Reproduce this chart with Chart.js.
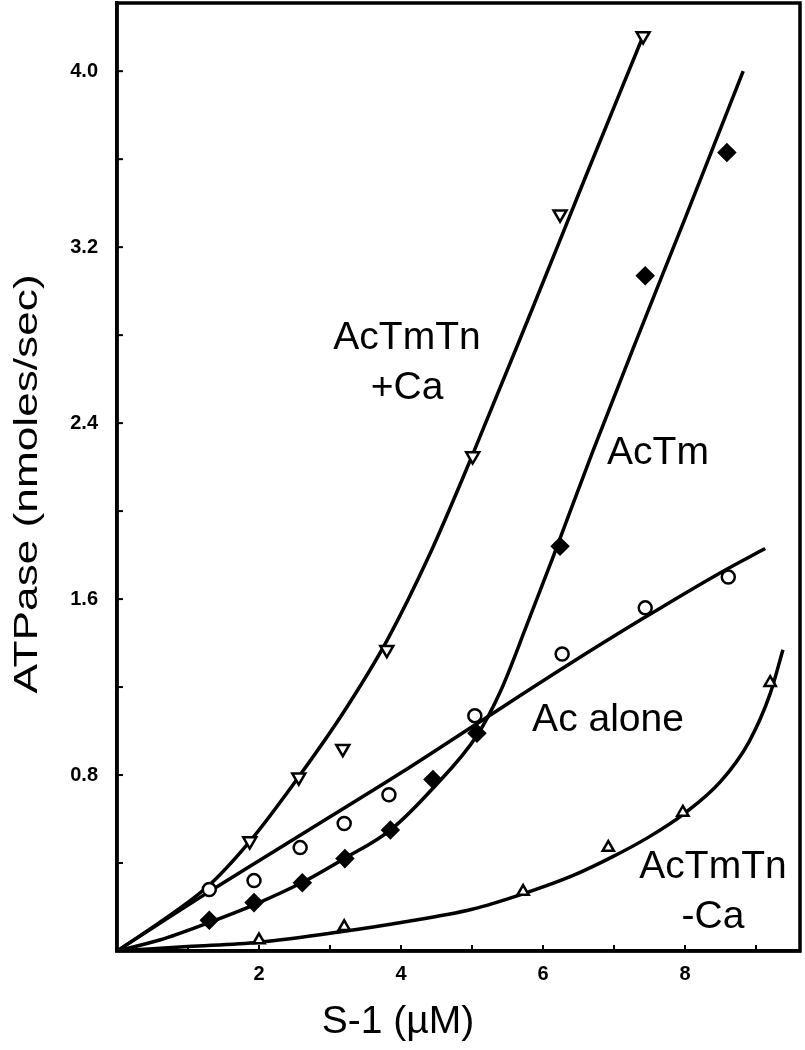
<!DOCTYPE html>
<html>
<head>
<meta charset="utf-8">
<script src="https://cdn.jsdelivr.net/npm/chart.js@4.4.1/dist/chart.umd.min.js"></script>
<style>
  html, body { margin: 0; padding: 0; background: #fff; }
  #wrap { width: 805px; height: 1050px; }
</style>
</head>
<body>
<div id="wrap"><canvas id="chart"></canvas></div>
<script>
// measured points (S-1 in uM, ATPase in nmoles/sec)
const acAloneX = [1.30, 1.93, 2.58, 3.20, 3.83, 5.04, 6.27, 7.44, 8.61];
const acAloneY = [0.28, 0.32, 0.47, 0.58, 0.71, 1.07, 1.35, 1.56, 1.70];

const plusCaX = [1.87, 2.56, 3.18, 3.80, 5.01, 6.24, 7.41];
const plusCaY = [0.50, 0.79, 0.92, 1.37, 2.25, 3.35, 4.16];

const acTmX = [1.30, 1.93, 2.61, 3.21, 3.85, 4.45, 5.07, 6.24, 7.44, 8.59];
const acTmY = [0.14, 0.22, 0.31, 0.42, 0.55, 0.78, 0.99, 1.84, 3.07, 3.63];

const minusCaX = [2.00, 3.20, 5.72, 6.92, 7.97, 9.20];
const minusCaY = [0.05, 0.11, 0.27, 0.47, 0.63, 1.22];

// fitted curves
const acAloneFitX = [0, 1.3, 2.7, 4.0, 5.1, 6.3, 7.4, 8.5, 9.13];
const acAloneFitY = [0, 0.27, 0.55, 0.81, 1.04, 1.29, 1.51, 1.72, 1.83];

const plusCaFitX = [0, 0.6, 1.3, 1.9, 2.6, 3.2, 3.8, 4.4, 5.0, 5.85, 6.6, 7.41];
const plusCaFitY = [0, 0.13, 0.30, 0.51, 0.81, 1.09, 1.41, 1.80, 2.25, 2.92, 3.52, 4.16];

const acTmFitX = [0, 0.6, 1.3, 1.93, 2.6, 3.2, 3.85, 4.45, 5.07, 5.4, 5.77, 6.14, 6.7, 7.27, 8.0, 8.82];
const acTmFitY = [0, 0.05, 0.13, 0.21, 0.31, 0.42, 0.55, 0.74, 0.98, 1.18, 1.48, 1.79, 2.27, 2.74, 3.33, 4.00];

const minusCaFitX = [0, 1.0, 2.0, 3.2, 4.0, 5.0, 5.72, 6.4, 6.99, 7.5, 7.97, 8.5, 8.9, 9.2, 9.38];
const minusCaFitY = [0, 0.02, 0.04, 0.09, 0.13, 0.19, 0.26, 0.34, 0.43, 0.52, 0.62, 0.77, 0.95, 1.17, 1.37];

const xLabels = [2, 4, 6, 8];
const yLabels = [0.8, 1.6, 2.4, 3.2, 4.0];

const curveLabels = [
    { lines: ['AcTmTn', '+Ca'], x: 407, y: 338 },
    { lines: ['AcTm'], x: 658, y: 453 },
    { lines: ['Ac alone'], x: 608, y: 720 },
    { lines: ['AcTmTn', '-Ca'], x: 713, y: 867 }
];

const pts = (xs, ys) => xs.map((x, i) => ({ x: x, y: ys[i] }));

function fitLine(xs, ys) {
    return {
        data: pts(xs, ys),
        showLine: true,
        borderColor: '#000',
        borderWidth: 3.5,
        pointRadius: 0,
        cubicInterpolationMode: 'monotone',
        order: 2
    };
}

function markers(xs, ys, style, opts) {
    return Object.assign({
        data: pts(xs, ys),
        showLine: false,
        pointStyle: style,
        pointRadius: 6,
        pointBorderWidth: 2.5,
        pointBorderColor: '#000',
        pointBackgroundColor: '#fff',
        order: 1
    }, opts || {});
}

// frame, inward ticks, titles and curve names
const decor = {
    id: 'decor',
    afterDraw(chart) {
        const ctx = chart.ctx;
        const a = chart.chartArea;
        const xs = chart.scales.x, ys = chart.scales.y;
        ctx.save();
        ctx.strokeStyle = '#000';
        ctx.lineWidth = 2;
        for (let v = 1; v <= 9; v++) {
            const px = xs.getPixelForValue(v);
            ctx.beginPath(); ctx.moveTo(px, a.bottom); ctx.lineTo(px, a.bottom - 6); ctx.stroke();
        }
        ys.ticks.forEach(t => {
            if (t.value <= 0) return;
            const py = ys.getPixelForValue(t.value);
            ctx.beginPath(); ctx.moveTo(a.left, py); ctx.lineTo(a.left + 6, py); ctx.stroke();
        });
        ctx.lineWidth = 3.5;
        ctx.strokeRect(a.left, a.top, a.right - a.left, a.bottom - a.top);

        ctx.fillStyle = '#000';
        ctx.textAlign = 'center';
        ctx.textBaseline = 'middle';
        ctx.font = '39px "Liberation Sans", Arial, sans-serif';
        curveLabels.forEach(l => {
            l.lines.forEach((s, i) => ctx.fillText(s, l.x, l.y + i * 50));
        });
        ctx.fillText('S-1 (\u00b5M)', 398, 1022);

        ctx.translate(28, 484);
        ctx.rotate(-Math.PI / 2);
        ctx.scale(1.3, 1);
        ctx.font = '34px "Liberation Sans", Arial, sans-serif';
        ctx.fillText('ATPase (nmoles/sec)', 0, 0);
        ctx.restore();
    }
};

const tickFont = { family: '"Liberation Sans", Arial, sans-serif', size: 20, weight: 'bold' };

new Chart(document.getElementById('chart'), {
    type: 'scatter',
    data: {
        datasets: [
            fitLine(acAloneFitX, acAloneFitY),
            fitLine(plusCaFitX, plusCaFitY),
            fitLine(acTmFitX, acTmFitY),
            fitLine(minusCaFitX, minusCaFitY),
            markers(acAloneX, acAloneY, 'circle', { pointRadius: 6.5 }),
            markers(plusCaX, plusCaY, 'triangle', { pointRotation: 180, pointRadius: 7.5 }),
            markers(acTmX, acTmY, 'rectRot', { pointRadius: 8, pointBackgroundColor: '#000' }),
            markers(minusCaX, minusCaY, 'triangle', { pointRadius: 6.5 })
        ]
    },
    options: {
        responsive: true,
        maintainAspectRatio: false,
        animation: false,
        layout: { autoPadding: false, padding: { top: 3, right: 5, left: 0, bottom: 0 } },
        plugins: { legend: { display: false }, tooltip: { enabled: false } },
        scales: {
            x: {
                type: 'linear',
                min: 0,
                max: 9.62,
                afterFit: s => {
                    s.height = 99;
                    s.paddingLeft = 0; s.paddingRight = 0;
                },
                grid: { display: false },
                border: { display: true, color: '#000', width: 3.5 },
                afterBuildTicks: s => { s.ticks = xLabels.map(v => ({ value: v })); },
                ticks: {
                    padding: 3,
                    color: '#000',
                    font: tickFont,
                    callback: v => String(v)
                }
            },
            y: {
                type: 'linear',
                min: 0,
                max: 4.31,
                afterFit: s => {
                    s.width = 117;
                    s.paddingTop = 0; s.paddingBottom = 0;
                },
                grid: { display: false },
                border: { display: true, color: '#000', width: 3.5 },
                afterBuildTicks: s => {
                    const t = [];
                    for (let k = 1; k <= 10; k++) t.push({ value: k * 0.4 });
                    s.ticks = t;
                },
                ticks: {
                    padding: 11,
                    color: '#000',
                    font: tickFont,
                    callback: v => {
                        const r = yLabels.find(l => Math.abs(l - v) < 1e-6);
                        return r === undefined ? '' : r.toFixed(1);
                    }
                }
            }
        }
    },
    plugins: [decor]
});
</script>
</body>
</html>
